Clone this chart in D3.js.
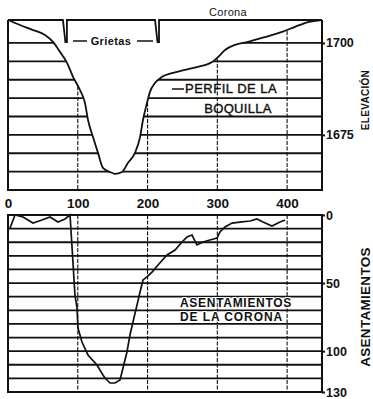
<!DOCTYPE html>
<html><head><meta charset="utf-8">
<script src="https://cdn.jsdelivr.net/npm/d3@7"></script>
<style>
html,body{margin:0;padding:0;background:#fff;}
svg{display:block;}
text{font-family:"Liberation Sans",Arial,sans-serif;fill:#111;}
</style></head>
<body>
<svg id="c" width="373" height="399"></svg>
<script>
// ---- data ----
const profileX = [0,17,36,53,64.5,74.5,84.6,93.2,103.2,110.3,114.6,121.8,129,136.1,146.2,153.3,163.4,172,182,189.2,193.5,199.2,203.5,210.7,220.7,235,253.7,272.3,292.4,303.8,311,325.3,344,368.3,392.7,411.3,430,450];
const profileY = [1706.25,1704.9,1703.5,1702.2,1700.3,1697.6,1694.6,1690.8,1687.2,1683.7,1679.1,1674.4,1670.1,1666.0,1664.9,1664.4,1664.9,1667.4,1670.1,1674.4,1679.1,1683.7,1686.7,1689.1,1690.8,1691.8,1692.7,1693.5,1694.8,1696.7,1698.1,1699.5,1700.3,1701.6,1703.0,1704.4,1705.7,1706.25];
const settleX = [2.9,10,21.5,35.8,48.7,60.2,71.6,81.7,88.9,96,98.9,100.3,106,114.6,127.5,136.1,139,146.2,153.3,160.5,164.8,170.5,174.8,179.1,184.9,189.2,193.5,199.2,206.4,215,227.9,239.4,249.4,256.5,263.7,270.8,279.4,289.4,299.5,303.8,311,321,335.3,346.8,356.8,365.4,378.3,389.8,397];
const settleY = [9.5,0,1.5,5.9,3.7,1.5,5.1,2.9,0,58.8,68.3,83,93.3,102.8,110.2,117.5,119.7,123.4,123.4,121.2,112.4,100.6,88.1,78.6,66.1,56.6,47.7,45.5,41.9,36.7,29.4,25.7,19.8,16.2,14.7,22,19.8,18.4,16.9,12.5,8.8,5.9,5.1,4.4,2.9,5.1,8.1,5.1,3.7];
const xTicks = [0,100,200,300,400];
const xGrid = [100,200,300,400];
const elevTicks = [1700,1675];
const elevGrid = [1665,1670,1675,1680,1685,1690,1695,1700];
const settleTicks = [0,50,100,130];
const settleGrid = [10,20,30,40,50,60,70,80,90,100,110,120];
const grietas = [83,215];

// ---- scales ----
const svg = d3.select("#c");
const x = d3.scaleLinear().domain([0,450]).range([8,322]);
const yT = d3.scaleLinear().domain([1660,1706.25]).range([190,20]);
const yB = d3.scaleLinear().domain([0,130]).range([215,392]);

const prof = profileX.map((v,i)=>[v,profileY[i]]);
const sett = settleX.map((v,i)=>[v,settleY[i]]);

// ---- top panel: grid only below the profile ----
svg.append("clipPath").attr("id","ground")
  .append("path")
  .attr("d", d3.area().x(d=>x(d[0])).y0(yT(1660)).y1(d=>yT(d[1]))(prof));

const gTop = svg.append("g").attr("clip-path","url(#ground)");
gTop.selectAll("line.h").data(elevGrid).join("line")
  .attr("x1",x(0)).attr("x2",x(450)).attr("y1",d=>yT(d)).attr("y2",d=>yT(d))
  .attr("stroke","#111").attr("stroke-width",1.8);
gTop.selectAll("line.v").data(xGrid).join("line")
  .attr("x1",d=>x(d)).attr("x2",d=>x(d)).attr("y1",yT(1706.25)).attr("y2",yT(1660))
  .attr("stroke","#111").attr("stroke-width",1.1).attr("stroke-dasharray","4,1.5");

svg.append("path").datum(prof)
  .attr("d", d3.line().x(d=>x(d[0])).y(d=>yT(d[1])).curve(d3.curveMonotoneX))
  .attr("fill","none").attr("stroke","#111").attr("stroke-width",1.8);

// frame top panel (top edge = corona with cracks)
let topPath = `M${x(0)},${yT(1706.25)}`;
grietas.forEach(g=>{
  const gx = x(g);
  topPath += ` L${gx-3},20 L${gx-0.5},42 L${gx+1},42 L${gx+1},20`;
});
topPath += ` L${x(450)},20`;
svg.append("path").attr("d",topPath).attr("fill","none").attr("stroke","#111").attr("stroke-width",1.8);
svg.append("path").attr("d",`M${x(0)},20 V190 H${x(450)} V20`)
  .attr("fill","none").attr("stroke","#111").attr("stroke-width",2);

// ---- bottom panel ----
const gBot = svg.append("g");
gBot.selectAll("line.h").data(settleGrid).join("line")
  .attr("x1",x(0)).attr("x2",x(450)).attr("y1",d=>yB(d)).attr("y2",d=>yB(d))
  .attr("stroke","#111").attr("stroke-width",1.8);
gBot.selectAll("line.v").data(xGrid).join("line")
  .attr("x1",d=>x(d)).attr("x2",d=>x(d)).attr("y1",yB(0)).attr("y2",yB(130))
  .attr("stroke","#111").attr("stroke-width",1.1).attr("stroke-dasharray","4,1.5");

// settlement label
const lab = svg.append("g").attr("font-weight","bold").attr("font-size",12);
[["ASENTAMIENTOS",307,0.7],["DE LA CORONA",321,0.9]].forEach(([t,yy,ls])=>{
  lab.append("text").attr("x",180).attr("y",yy).attr("letter-spacing",ls).text(t)
    .attr("stroke","#fff").attr("stroke-width",2.2).attr("paint-order","stroke");
});

svg.append("path").datum(sett)
  .attr("d", d3.line().x(d=>x(d[0])).y(d=>yB(d[1])))
  .attr("fill","none").attr("stroke","#111").attr("stroke-width",1.7);

svg.append("rect").attr("x",x(0)).attr("y",yB(0)).attr("width",x(450)-x(0)).attr("height",yB(130)-yB(0))
  .attr("fill","none").attr("stroke","#111").attr("stroke-width",2);

// ---- axes ----
const ax = svg.append("g").attr("transform","translate(0,190)")
  .call(d3.axisBottom(x).tickValues(xTicks).tickSize(0).tickPadding(8).tickFormat(d3.format("d")));
ax.select(".domain").remove();
ax.selectAll("text").attr("font-size",13.5).attr("font-weight","bold").attr("fill","#111")
  .attr("font-family","Liberation Sans, Arial, sans-serif");

const ar1 = svg.append("g").attr("transform",`translate(${x(450)},0)`)
  .call(d3.axisRight(yT).tickValues(elevTicks).tickSize(3).tickPadding(1).tickFormat(d3.format("d")));
const ar2 = svg.append("g").attr("transform",`translate(${x(450)},0)`)
  .call(d3.axisRight(yB).tickValues(settleTicks).tickSize(3).tickPadding(1).tickFormat(d3.format("d")));
[ar1,ar2].forEach(a=>{
  a.select(".domain").remove();
  a.selectAll("line").attr("stroke","#111").attr("stroke-width",2);
  a.selectAll("text").attr("font-size",12.5).attr("font-weight","bold").attr("fill","#111")
    .attr("font-family","Liberation Sans, Arial, sans-serif");
});

// ---- titles & annotations ----
svg.append("text").attr("transform","translate(369,100) rotate(-90)")
  .attr("text-anchor","middle").attr("font-size",10).attr("font-weight","bold")
  .attr("letter-spacing",0.3).text("ELEVACIÓN");
svg.append("text").attr("transform","translate(370,307) rotate(-90)")
  .attr("text-anchor","middle").attr("font-size",13.5).attr("font-weight","bold")
  .attr("letter-spacing",0.3).text("ASENTAMIENTOS");

svg.append("text").attr("x",228).attr("y",16).attr("text-anchor","middle")
  .attr("font-size",11).attr("letter-spacing",0.3).text("Corona");

svg.append("text").attr("x",111).attr("y",45).attr("text-anchor","middle")
  .attr("font-size",11).attr("font-weight","bold").attr("letter-spacing",0.4).text("Grietas");
svg.append("line").attr("x1",73).attr("x2",87).attr("y1",41).attr("y2",41).attr("stroke","#111").attr("stroke-width",1.5);
svg.append("line").attr("x1",137).attr("x2",153).attr("y1",41).attr("y2",41).attr("stroke","#111").attr("stroke-width",1.5);

svg.append("line").attr("x1",172).attr("x2",184).attr("y1",89).attr("y2",89).attr("stroke","#111").attr("stroke-width",1.5);
svg.append("text").attr("x",185).attr("y",93).attr("font-size",13).attr("letter-spacing",0.5)
  .attr("stroke","#111").attr("stroke-width",0.4).text("PERFIL DE LA");
svg.append("text").attr("x",238).attr("y",113).attr("text-anchor","middle").attr("font-size",13).attr("letter-spacing",0.3)
  .attr("stroke","#111").attr("stroke-width",0.4).text("BOQUILLA");
</script>
</body></html>
